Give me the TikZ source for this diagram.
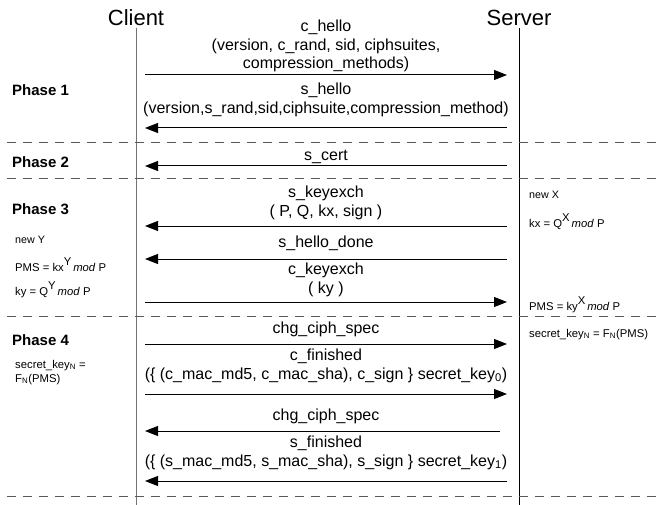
\documentclass[tikz,border=0pt]{standalone}
\usepackage{fontspec}
\setmainfont{Liberation Sans}
\usetikzlibrary{arrows.meta}
\begin{document}
\begin{tikzpicture}[x=1pt,y=-1pt,
  msg/.style={font=\fontsize{16}{18}\selectfont, anchor=base, inner sep=0pt},
  actor/.style={font=\fontsize{22}{24}\selectfont, anchor=base, inner sep=0pt},
  phase/.style={font=\fontsize{15}{17}\selectfont\bfseries, anchor=base west, inner sep=0pt},
  note/.style={font=\fontsize{11.3}{13}\selectfont, anchor=base west, inner sep=0pt},
  smallnote/.style={font=\fontsize{10.7}{12}\selectfont, anchor=base west, inner sep=0pt},
  arr/.style={line width=1pt, -{Triangle[length=13pt,width=10pt]}},
  dashline/.style={line width=1pt, black!65, dash pattern=on 9pt off 7pt},
  lifeline/.style={line width=1pt}]
\useasboundingbox (0,0) rectangle (658,505);
\fill[white] (0,0) rectangle (658,505);

% actors and lifelines
\node[actor] (client) at (136,25.5) {Client};
\node[actor] (server) at (519,25.5) {Server};
\coordinate (ctop) at (136,28);
\coordinate (cbot) at (136,505);
\coordinate (stop) at (519,28);
\coordinate (sbot) at (519,505);
\draw[lifeline, black!55] (ctop) -- (cbot);
\draw[lifeline] (stop) -- (sbot);

% dashed separators
\foreach \y [count=\i] in {143,179,316,496} {
  \coordinate (d\i a) at (7,\y);
  \coordinate (d\i b) at (658,\y);
  \draw[dashline] (d\i a) -- (d\i b);
}

% phase labels
\node[phase] (p1) at (12,95.5) {Phase 1};
\node[phase] (p2) at (12,167.5) {Phase 2};
\node[phase] (p3) at (12,214.5) {Phase 3};
\node[phase] (p4) at (12,345.5) {Phase 4};

% messages
\node[msg] (m1a) at (326,31.7) {c\_hello};
\node[msg] (m1b) at (326,50.7) {(version, c\_rand, sid, ciphsuites,};
\node[msg] (m1c) at (326,68.7) {compression\_methods)};
\coordinate (a1c) at (145,75); \coordinate (a1s) at (507,75);
\draw[arr] (a1c) -- (a1s);

\node[msg] (m2a) at (326,94.7) {s\_hello};
\node[msg] (m2b) at (326,113.2) {(version,s\_rand,sid,ciphsuite,compression\_method)};
\coordinate (a2c) at (145,128); \coordinate (a2s) at (507,128);
\draw[arr] (a2s) -- (a2c);

\node[msg] (m3) at (326,160.7) {s\_cert};
\coordinate (a3c) at (145,166); \coordinate (a3s) at (507,166);
\draw[arr] (a3s) -- (a3c);

\node[msg] (m4a) at (326,197.7) {s\_keyexch};
\node[msg] (m4b) at (326,216.2) {( P, Q, kx, sign )};
\coordinate (a4c) at (145,226); \coordinate (a4s) at (507,226);
\draw[arr] (a4s) -- (a4c);

\node[msg] (m5) at (326,247.2) {s\_hello\_done};
\coordinate (a5c) at (145,259); \coordinate (a5s) at (507,259);
\draw[arr] (a5s) -- (a5c);

\node[msg] (m6a) at (326,274.7) {c\_keyexch};
\node[msg] (m6b) at (326,293.2) {( ky )};
\coordinate (a6c) at (145,302); \coordinate (a6s) at (507,302);
\draw[arr] (a6c) -- (a6s);

\node[msg] (m7) at (326,333.2) {chg\_ciph\_spec};
\coordinate (a7c) at (145,344); \coordinate (a7s) at (507,344);
\draw[arr] (a7c) -- (a7s);

\node[msg] (m8a) at (326,360.7) {c\_finished};
\node[msg] (m8b) at (326,379.2) {(\{ (c\_mac\_md5, c\_mac\_sha), c\_sign \} secret\_key\textsubscript{0})};
\coordinate (a8c) at (145,394); \coordinate (a8s) at (507,394);
\draw[arr] (a8c) -- (a8s);

\node[msg] (m9) at (326,420.2) {chg\_ciph\_spec};
\coordinate (a9c) at (145,431); \coordinate (a9s) at (500,431);
\draw[arr] (a9s) -- (a9c);

\node[msg] (m10a) at (326,447.7) {s\_finished};
\node[msg] (m10b) at (326,466.2) {(\{ (s\_mac\_md5, s\_mac\_sha), s\_sign \} secret\_key\textsubscript{1})};
\coordinate (a10c) at (145,481); \coordinate (a10s) at (507,481);
\draw[arr] (a10s) -- (a10c);

% client-side notes
\node[smallnote] (n1) at (15,243) {new Y};
\node[note] (n2) at (15,271) {PMS = kx\raisebox{5.5pt}{Y}\,\textit{mod} P};
\node[note] (n3) at (15,295) {ky = Q\raisebox{5.5pt}{Y}\,\textit{mod} P};
\node[note] (n4) at (15,368) {secret\_key\textsubscript{N} =};
\node[note] (n5) at (15,382) {F\textsubscript{N}(PMS)};

% server-side notes
\node[smallnote] (n6) at (529,199) {new X};
\node[note] (n7) at (529,227) {kx = Q\raisebox{5.5pt}{X}\,\textit{mod} P};
\node[note] (n8) at (529,310) {PMS = ky\raisebox{5.5pt}{X}\,\textit{mod} P};
\node[note] (n9) at (529,337) {secret\_key\textsubscript{N} = F\textsubscript{N}(PMS)};
\end{tikzpicture}
\end{document}
